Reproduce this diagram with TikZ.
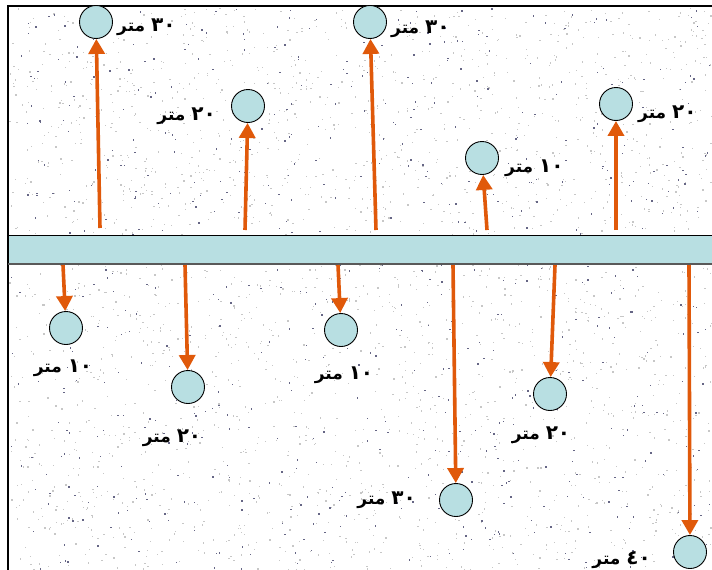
\documentclass[tikz,border=0pt]{standalone}
\usepackage{fontspec}
\usetikzlibrary{arrows.meta}
\newfontfamily\arabicfont[Script=Arabic]{DejaVu Sans}
\TeXXeTstate=1
\definecolor{pale}{HTML}{B8DFE2}
\definecolor{rust}{HTML}{E0590A}
\newcommand{\metr}[1]{\arabicfont\bfseries\beginR {\fontsize{20}{22}\selectfont #1} متر\endR}

\begin{document}
\begin{tikzpicture}[x=1pt,y=-1pt]
    \tikzset{ball/.style = {%
        shape= circle,
        fill= pale,
        minimum size = 33pt,
        inner sep = 0pt,
        line width = 0.9pt,draw},
      lbl/.style = {font=\fontsize{17}{20}\selectfont, inner sep=0pt},
      shot/.style = {rust, line width=3.6pt,
        -{Triangle[width=16pt,length=15pt]}}}
    \useasboundingbox (0,0) rectangle (712,570);
    % speckled ground
    \pgfmathsetseed{17}
    \foreach \i in {1,...,2600}
      \fill[black!22] ({9+702*rnd},{7+562*rnd}) rectangle +(1.3,1.3);
    \foreach \i in {1,...,700}
      \fill[blue!20!black!60] ({9+702*rnd},{7+562*rnd}) rectangle +(1.4,1.4);
    \draw[line width=1.2pt] (8,570) -- (8,6) -- (712,6);
    % the pipe
    \draw[fill=pale] (8,235) rectangle (712,264);
    \draw[line width=1.6pt,black!65] (8,264) -- (712,264);
    % upper wells
    \node[ball] (c1) at (96,22) {};
    \node[ball] (c2) at (248,106) {};
    \node[ball] (c3) at (370,22) {};
    \node[ball] (c4) at (482,158) {};
    \node[ball] (c5) at (616,104) {};
    \node[lbl,anchor=west] (l1) at (117,27) {\metr{٣٠}};
    \node[lbl,anchor=east] (l2) at (216,116) {\metr{٢٠}};
    \node[lbl,anchor=west] (l3) at (391,29) {\metr{٣٠}};
    \node[lbl,anchor=west] (l4) at (505,168) {\metr{١٠}};
    \node[lbl,anchor=west] (l5) at (638,114) {\metr{٢٠}};
    \coordinate (s1) at (100,228);
    \coordinate (s2) at (245,230);
    \coordinate (s3) at (376,230);
    \coordinate (s4) at (487,230);
    \coordinate (s5) at (616,230);
    \draw[shot] (s1) -- (c1);
    \draw[shot] (s2) -- (c2);
    \draw[shot] (s3) -- (c3);
    \draw[shot] (s4) -- (c4);
    \draw[shot] (s5) -- (c5);
    % lower wells
    \node[ball] (c6) at (66,328) {};
    \node[ball] (c7) at (188,387) {};
    \node[ball] (c8) at (341,330) {};
    \node[ball] (c9) at (456,500) {};
    \node[ball] (c10) at (550,394) {};
    \node[ball] (c11) at (690,552) {};
    \node[lbl] (l6) at (63,368) {\metr{١٠}};
    \node[lbl] (l7) at (172,438) {\metr{٢٠}};
    \node[lbl] (l8) at (344,375) {\metr{١٠}};
    \node[lbl,anchor=east] (l9) at (416,500) {\metr{٣٠}};
    \node[lbl] (l10) at (541,435) {\metr{٢٠}};
    \node[lbl,anchor=east] (l11) at (651,560) {\metr{٤٠}};
    \coordinate (t6) at (63,265);
    \coordinate (t7) at (185,265);
    \coordinate (t8) at (338,265);
    \coordinate (t9) at (453,265);
    \coordinate (t10) at (555,265);
    \coordinate (t11) at (689,265);
    \draw[shot] (t6) -- (c6);
    \draw[shot] (t7) -- (c7);
    \draw[shot] (t8) -- (c8);
    \draw[shot] (t9) -- (c9);
    \draw[shot] (t10) -- (c10);
    \draw[shot] (t11) -- (c11);
  \end{tikzpicture}
\end{document}
